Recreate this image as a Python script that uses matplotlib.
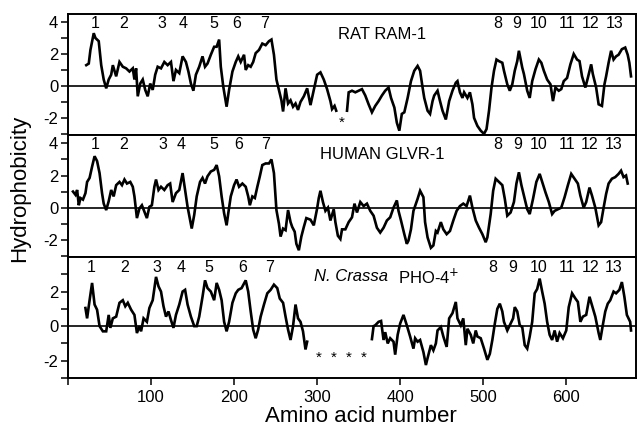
import numpy as np
import matplotlib
matplotlib.use("Agg")
import matplotlib.pyplot as plt

plt.rcParams['font.family'] = ['Liberation Sans', 'DejaVu Sans']
plt.rcParams['axes.unicode_minus'] = False

# ---- data (amino acid number, hydrophobicity) ----
# RAT RAM-1
rat_x = [22, 25, 27, 31, 33, 37, 40, 43, 46, 49, 52, 54, 58, 62, 66, 70, 74, 78, 80, 82,
         84, 87, 90, 93, 96, 99, 102, 105, 108, 112, 116, 120, 124, 127, 130, 134, 138, 142,
         145, 148, 151, 154, 158, 162, 165, 168, 172, 176, 179, 182, 184, 187, 191, 194, 198,
         202, 205, 208, 212, 214, 217, 220, 223, 226, 230, 234, 238, 242, 245, 248, 251, 254,
         257, 259, 262, 265, 268, 271, 274, 277, 280, 284, 288, 292, 296, 300, 304, 308, 312,
         316, 318, 321, 323, 329,
         336, 338, 342, 346, 350, 354, 358, 362, 366, 370, 374, 378, 382, 386, 389, 393, 396,
         399, 402, 405, 409, 413, 417, 421, 424, 427, 429, 433, 436, 439, 441, 445, 448, 451,
         455, 459, 463, 467, 469, 472, 475, 477, 481, 484, 487, 489, 493, 497, 501, 504, 507,
         510, 513, 516, 519, 523, 525, 529, 532, 535, 538, 541, 543, 547, 549, 553, 556, 559,
         563, 567, 570, 573, 577, 581, 584, 587, 591, 594, 597, 601, 605, 609, 613, 616, 619,
         623, 626, 630, 632, 636, 639, 643, 646, 648, 651, 654, 657, 660, 663, 667, 671, 674,
         676, 678]
rat_y = [1.3, 1.4, 2.25, 3.3, 3.0, 2.8, 1.3, 0.4, -0.15, 0.4, 0.7, 1.3, 0.6, 1.5, 1.2, 1.1,
         0.9, 1.1, 0.4, 1.1, -0.65, 0.15, 0.4, -0.25, -0.65, 0.15, -0.25, 0.7, 1.2, 1.1, 1.5,
         1.3, 1.5, 0.3, 1.0, 0.8, 1.85, 1.5, 0.9, 0.15, -0.3, 0.7, 1.2, 1.85, 1.2, 1.4, 1.95,
         2.45, 2.45, 2.9, 1.2, -0.05, -1.3, -0.25, 0.9, 1.5, 1.85, 1.5, 1.95, 1.0, 1.3, 1.2,
         1.5, 2.05, 2.25, 2.65, 2.55, 2.8, 2.9, 1.95, 0.4, -0.25, -0.9, -1.6, -0.15, -1.1,
         -0.9, -1.3, -1.1, -1.5, -1.0, -0.65, -0.15, -1.2, -0.25, 0.7, 0.85, 0.4, -0.2, -0.95,
         -1.45, -1.25, -1.55, np.nan,
         -1.55, -0.4, -0.3, -0.4, -0.3, -0.2, -0.6, -1.15, -1.65, -1.25, -0.95, -0.6, -0.3,
         -0.1, -0.75, -1.35, -2.3, -2.8, -1.75, -1.65, -0.75, 0.3, 0.95, 1.25, 0.95, -0.1,
         -0.75, -1.55, -1.75, -0.95, -0.6, -0.3, -0.95, -1.55, -2.1, -0.95, -0.3, 0.2, 0.3,
         -0.4, -0.75, -0.4, -0.75, -0.4, -1.15, -2.0, -2.5, -2.8, -3.0, -2.7, -1.55, -0.1,
         0.95, 1.65, 1.55, 1.45, 0.95, 0.1, -0.3, 0.1, 0.95, 1.55, 2.2, 1.15, 0.75, -0.3,
         -0.75, 0.3, 1.05, 1.65, 1.45, 0.95, 0.4, 0.1, -0.95, -0.1, -0.3, -0.2, 0.3, 0.5,
         1.35, 2.0, 1.65, 1.55, 0.6, -0.1, 0.5, 1.35, 0.75, -0.1, -1.15, -1.25, 0.1, 0.6,
         1.45, 2.2, 1.65, 1.85, 1.95, 2.3, 2.4, 1.95, 1.45, 0.6]

# HUMAN GLVR-1
hum_x = [6, 9, 11, 13, 15, 18, 21, 23, 26, 29, 32, 35, 38, 41, 43, 46, 49, 52, 55, 58, 62,
         65, 68, 71, 75, 78, 80, 83, 86, 89, 92, 95, 98, 101, 104, 106, 109, 112, 116, 120,
         123, 126, 130, 134, 138, 141, 144, 149, 152, 155, 159, 162, 165, 168, 172, 176, 179,
         182, 185, 188, 191, 193, 196, 200, 203, 206, 210, 214, 217, 219, 222, 225, 228, 231,
         234, 238, 242, 245, 248, 251, 254, 256, 259, 262, 265, 268, 270, 273, 275, 278, 281,
         284, 287, 292, 296, 300, 302, 304, 307, 310, 313, 316, 320, 322, 325, 328, 330, 334,
         338, 342, 345, 348, 352, 356, 360, 364, 368, 372, 376, 380, 384, 388, 392, 396, 398,
         401, 405, 408, 410, 413, 416, 421, 424, 428, 430, 433, 437, 440, 443, 445, 449, 452,
         456, 460, 464, 468, 472, 476, 480, 484, 487, 491, 495, 499, 503, 505, 509, 512, 515,
         519, 523, 526, 529, 533, 537, 540, 543, 546, 549, 553, 556, 560, 564, 568, 571, 575,
         579, 583, 586, 590, 594, 598, 602, 606, 610, 614, 617, 621, 624, 628, 631, 635, 639,
         642, 645, 648, 651, 655, 659, 663, 666, 669, 672, 674]
hum_y = [1.0, 0.8, 1.1, 0.15, 0.6, 0.5, 0.9, 1.6, 1.85, 2.55, 3.2, 2.9, 2.15, 0.9, 0.25,
         -0.15, 0.4, 1.1, 0.7, 1.4, 1.6, 1.4, 1.75, 1.5, 1.6, 1.3, 0.7, -0.65, -0.05, 0.15,
         -0.25, -0.65, 0.05, 0.15, 1.3, 1.75, 1.1, 1.3, 1.1, 1.4, 1.5, 0.35, 0.9, 1.1, 2.15,
         1.1, 0.05, -1.3, -0.45, 0.7, 1.6, 1.85, 1.5, 1.95, 2.25, 2.35, 2.65, 1.95, 0.7,
         -0.35, -1.1, -0.35, 0.7, 1.4, 1.75, 1.3, 1.5, 1.3, 0.7, 0.15, 0.7, 0.6, 1.3, 1.95,
         2.65, 2.75, 2.75, 3.0, 2.15, -0.15, -1.0, -1.8, -1.3, -1.4, -0.15, -0.9, -1.2, -1.5,
         -2.25, -2.65, -1.8, -1.2, -0.65, -0.75, -1.1, -0.05, 0.6, 1.05, 0.35, -0.2, 0.0,
         -0.8, -0.1, -0.9, -1.75, -1.95, -1.35, -1.35, -0.9, -0.6, 0.25, -0.3, 0.35, 0.1,
         0.25, -0.2, -0.5, -1.25, -1.55, -1.25, -0.8, -0.6, 0.0, 0.45, -0.2, -0.8, -1.65,
         -2.25, -2.05, -1.35, -0.2, 0.55, 1.05, 0.65, -0.9, -1.85, -2.5, -2.35, -1.45, -1.55,
         -0.9, -1.35, -1.65, -1.45, -0.8, -0.2, 0.1, 0.25, 0.1, 0.75, 0.0, -0.8, -1.25, -1.65,
         -2.15, -1.85, -0.4, 1.05, 1.8, 1.6, 1.4, 0.55, -0.5, -0.3, 0.35, 1.5, 2.2, 1.4, 0.75,
         -0.1, -0.4, 0.55, 1.6, 2.1, 1.6, 0.95, 0.35, -0.4, -0.2, -0.1, 0.0, 0.65, 1.4, 2.1,
         1.8, 1.5, 0.75, 0.0, 0.35, 1.25, 0.75, 0.0, -1.1, -0.9, 0.0, 0.85, 1.5, 1.8, 1.9,
         2.1, 2.3, 1.9, 2.0, 1.5]

# N. Crassa PHO-4+
pho_x = [21, 23, 26, 29, 32, 35, 38, 42, 46, 49, 51, 54, 58, 62, 66, 69, 72, 76, 80, 83, 86,
         88, 91, 95, 98, 102, 106, 109, 112, 115, 118, 121, 124, 127, 130, 134, 138, 141, 144,
         148, 152, 155, 158, 162, 165, 168, 172, 176, 179, 182, 185, 188, 191, 194, 198, 202,
         205, 209, 214, 217, 220, 223, 226, 229, 232, 236, 240, 244, 248, 252, 255, 259, 262,
         265, 268, 271, 274, 277, 280, 283, 286, 288, 327,
         366, 368, 370, 374, 377, 380, 382, 385, 388, 392, 394, 397, 400, 404, 408, 412, 416,
         418, 421, 424, 428, 431, 433, 437, 440, 443, 445, 449, 452, 456, 459, 463, 467, 469,
         473, 476, 479, 481, 485, 488, 491, 493, 497, 501, 505, 508, 511, 514, 517, 520, 523,
         525, 529, 532, 536, 538, 541, 544, 547, 550, 553, 556, 559, 562, 565, 568, 571, 574,
         577, 580, 583, 586, 589, 592, 596, 600, 603, 607, 611, 614, 617, 620, 624, 628, 631,
         635, 639, 641, 644, 647, 650, 653, 657, 660, 664, 667, 670, 673, 677, 678]
pho_y = [1.05, 0.45, 1.5, 2.5, 1.25, 0.95, 0.0, -0.3, -0.3, 0.65, -0.1, 0.45, 0.55, 1.35,
         1.5, 1.15, 1.35, 0.95, 0.65, -0.4, 0.0, -0.3, 0.45, 0.25, 1.05, 1.5, 2.85, 2.3, 2.0,
         1.15, 0.55, 0.85, 0.35, -0.1, 0.65, 1.25, 2.0, 2.1, 1.25, 0.55, 0.0, 0.0, 0.55, 1.7,
         2.65, 2.2, 2.0, 1.5, 2.5, 2.1, 1.5, 0.25, -0.3, 0.25, 1.35, 1.9, 2.1, 2.2, 2.65, 2.0,
         0.85, -0.2, -0.7, -0.2, 0.55, 1.25, 1.9, 2.1, 2.4, 2.2, 1.6, 1.35, 0.55, -0.2, -0.8,
         0.0, 1.25, 0.45, 0.25, -0.3, -1.35, -0.9, np.nan,
         -0.75, 0.0, 0.05, 0.25, 0.3, -0.8, -0.35, -1.0, -0.7, -0.9, -1.65, -0.5, 0.15, 0.65,
         0.05, -0.6, -1.3, -0.7, -0.9, -0.8, -1.5, -2.25, -1.85, -1.1, -1.4, -1.0, -0.25,
         -0.05, -0.6, -1.2, 0.45, 0.75, 1.4, 0.45, 0.05, 0.45, -1.1, -0.15, -0.5, -1.0, -0.25,
         -0.6, -0.7, -1.3, -1.95, -1.6, -0.8, 0.15, 1.0, 1.3, 0.85, 0.25, -0.25, 0.05, 0.45,
         1.1, 0.85, 0.05, -0.05, -1.1, -1.3, -0.6, 0.25, 1.9, 2.15, 2.75, 2.0, 1.3, 0.25, -0.5,
         -0.8, -0.25, -0.9, -0.4, -0.7, -0.25, 1.1, 1.9, 1.6, 1.4, 0.25, 0.55, 0.65, 1.7, 1.2,
         0.55, -0.4, -0.8, 0.05, 0.85, 1.3, 1.5, 2.0, 1.9, 2.1, 2.55, 1.7, 0.65, 0.25, -0.25]

# transmembrane segment numbers and where they sit
tm_labels = ['1', '2', '3', '4', '5', '6', '7', '8', '9', '10', '11', '12', '13']
rat_tm_x = [33, 67, 113, 139, 175, 203, 237, 517, 540, 567, 601, 629, 658]
hum_tm_x = [33, 67, 114, 136, 176, 205, 238, 517, 541, 567, 601, 628, 657]
pho_tm_x = [28, 68, 107, 136, 170, 210, 243, 512, 535, 567, 601, 629, 657]

# gaps in the alignment
rat_star_x = [330]
pho_star_x = [302, 320, 338, 356]

fig = plt.figure(figsize=(6.38, 4.30), dpi=100)
L, W = 68 / 638, (636 - 68) / 638
ax1 = fig.add_axes([L, 1 - 135 / 430, W, 121 / 430])
ax2 = fig.add_axes([L, 1 - 257 / 430, W, 122 / 430])
ax3 = fig.add_axes([L, 1 - 378 / 430, W, 121 / 430])

panels = [
    (ax1, rat_x, rat_y, rat_tm_x, (-3.07, 4.5), [4, 2, 0, -2], [3, 1, -1, -3], 3.9),
    (ax2, hum_x, hum_y, hum_tm_x, (-3.07, 4.52), [4, 2, 0, -2], [3, 1, -1, -3], 3.9),
    (ax3, pho_x, pho_y, pho_tm_x, (-3.0, 4.0), [2, 0, -2], [3, 1, -1, -3], 3.4),
]

for ax, xs, ys, tmx, ylim, maj, mnr, tmy in panels:
    ax.plot(xs, ys, color='black', lw=1.9, solid_joinstyle='miter')
    ax.axhline(0, color='black', lw=1.2)
    ax.set_xlim(0, 684)
    ax.set_ylim(*ylim)
    ax.set_yticks(maj)
    ax.set_yticklabels([str(v) for v in maj])
    ax.set_yticks(mnr, minor=True)
    ax.tick_params(axis='y', which='both', direction='out', length=5, width=1.1,
                   labelsize=12, pad=2)
    for s in ax.spines.values():
        s.set_linewidth(1.4)
    for lab, xp in zip(tm_labels, tmx):
        ax.text(xp, tmy, lab, ha='center', va='center', fontsize=11.5)

for ax in (ax1, ax2):
    ax.set_xticks([])

ax3.set_xticks([0, 100, 200, 300, 400, 500, 600])
ax3.set_xticklabels(['', '100', '200', '300', '400', '500', '600'])
ax3.tick_params(axis='x', direction='out', length=5, width=1.1, labelsize=12, pad=4)

ax1.text(325, 3.2, 'RAT RAM-1', fontsize=12, va='center')
ax2.text(304, 3.3, 'HUMAN GLVR-1', fontsize=12, va='center')
ax3.text(296, 2.85, 'N. Crassa', fontsize=12, style='italic', va='center')
ax3.text(397, 2.85, 'PHO-4$^{+}$', fontsize=12, va='center')

for xp in rat_star_x:
    ax1.text(xp, -2.3, '*', fontsize=11, ha='center', va='center')
for xp in pho_star_x:
    ax3.text(xp, -1.85, '*', fontsize=11, ha='center', va='center')

fig.text(20 / 638, 1 - 188 / 430, 'Hydrophobicity', rotation=90, fontsize=16,
         ha='center', va='center')
fig.text(361 / 638, 1 - 417 / 430, 'Amino acid number', fontsize=16,
         ha='center', va='center')

fig.savefig('out.png', dpi=100)
